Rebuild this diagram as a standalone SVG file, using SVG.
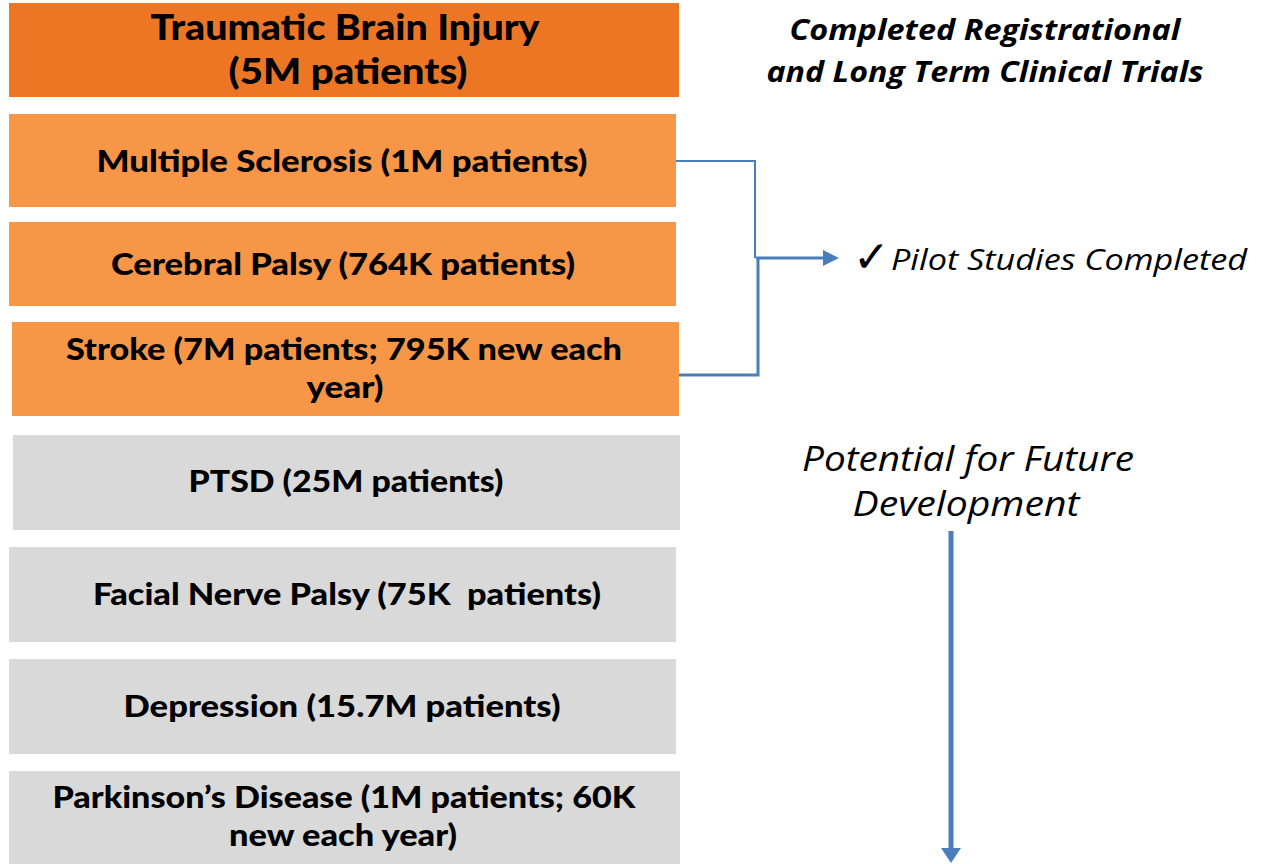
<svg xmlns="http://www.w3.org/2000/svg" width="1262" height="864" viewBox="0 0 1262 864">
  <style>
    .dark { fill: #ED7625; }
    .mid { fill: #F79646; }
    .grey { fill: #D9D9D9; }
    .lbl { font-family: Lato, "Open Sans", "Liberation Sans", sans-serif; font-weight: 900; fill: #000; text-anchor: middle; }
    .side { font-family: "Open Sans", "Noto Sans", "Liberation Sans", sans-serif; font-style: italic; fill: #000; }
    .link { fill: none; stroke: #4A7EBB; }
    .head { fill: #4A7EBB; }
  </style>

  <rect width="1262" height="864" fill="#fff"/>

  <g id="tbi">
    <rect class="dark" x="9" y="3" width="670" height="94"/>
    <text class="lbl" x="345" y="40" font-size="36" textLength="389" lengthAdjust="spacingAndGlyphs">Traumatic Brain Injury</text>
    <text class="lbl" x="348" y="84" font-size="36" textLength="239" lengthAdjust="spacingAndGlyphs">(5M patients)</text>
  </g>

  <g id="ms">
    <rect class="mid" x="9" y="114" width="667" height="93"/>
    <text class="lbl" x="342" y="172" font-size="31" textLength="491" lengthAdjust="spacingAndGlyphs">Multiple Sclerosis (1M patients)</text>
  </g>

  <g id="cp">
    <rect class="mid" x="9" y="222" width="667" height="84"/>
    <text class="lbl" x="343" y="275" font-size="31" textLength="464" lengthAdjust="spacingAndGlyphs">Cerebral Palsy (764K patients)</text>
  </g>

  <g id="stroke">
    <rect class="mid" x="12" y="322" width="667" height="94"/>
    <text class="lbl" x="344" y="360" font-size="31" textLength="556" lengthAdjust="spacingAndGlyphs">Stroke (7M patients; 795K new each</text>
    <text class="lbl" x="345" y="398" font-size="31" textLength="77" lengthAdjust="spacingAndGlyphs">year)</text>
  </g>

  <g id="ptsd">
    <rect class="grey" x="13" y="435" width="667" height="95"/>
    <text class="lbl" x="346" y="492" font-size="31" textLength="315" lengthAdjust="spacingAndGlyphs">PTSD (25M patients)</text>
  </g>

  <g id="facial">
    <rect class="grey" x="9" y="547" width="667" height="95"/>
    <text class="lbl" x="347" y="605" font-size="31" textLength="508" lengthAdjust="spacingAndGlyphs" xml:space="preserve">Facial Nerve Palsy (75K  patients)</text>
  </g>

  <g id="depression">
    <rect class="grey" x="9" y="659" width="667" height="95"/>
    <text class="lbl" x="342" y="717" font-size="31" textLength="437" lengthAdjust="spacingAndGlyphs">Depression (15.7M patients)</text>
  </g>

  <g id="parkinsons">
    <rect class="grey" x="9" y="771" width="671" height="93"/>
    <text class="lbl" x="344" y="808" font-size="31" textLength="583" lengthAdjust="spacingAndGlyphs">Parkinson’s Disease (1M patients; 60K</text>
    <text class="lbl" x="343" y="846" font-size="31" textLength="228" lengthAdjust="spacingAndGlyphs">new each year)</text>
  </g>

  <g id="completed">
    <text class="side" font-weight="bold" x="985" y="40" font-size="29" text-anchor="middle" textLength="391" lengthAdjust="spacingAndGlyphs">Completed Registrational</text>
    <text class="side" font-weight="bold" x="985" y="82" font-size="29" text-anchor="middle" textLength="437" lengthAdjust="spacingAndGlyphs">and Long Term Clinical Trials</text>
  </g>

  <g id="pilot">
    <text x="853" y="272" font-size="44" font-family="'DejaVu Sans', sans-serif" font-weight="bold" fill="#000">✓</text>
    <text class="side" x="891" y="270" font-size="29" textLength="356" lengthAdjust="spacingAndGlyphs">Pilot Studies Completed</text>
  </g>

  <g id="future">
    <text class="side" x="968" y="471" font-size="34" text-anchor="middle" textLength="332" lengthAdjust="spacingAndGlyphs">Potential for Future</text>
    <text class="side" x="966" y="516" font-size="34" text-anchor="middle" textLength="227" lengthAdjust="spacingAndGlyphs">Development</text>
  </g>

  <g id="connectors">
    <path class="link" stroke-width="2" d="M676,161 H755 V258"/>
    <path class="link" stroke-width="3" d="M679,375 H758 V258"/>
    <path class="link" stroke-width="3" d="M756,258 H825"/>
    <polygon class="head" points="823,250 839,258 823,266"/>
    <path class="link" stroke-width="5" d="M951,531 V849"/>
    <polygon class="head" points="941,848 961,848 951,863"/>
  </g>
</svg>
